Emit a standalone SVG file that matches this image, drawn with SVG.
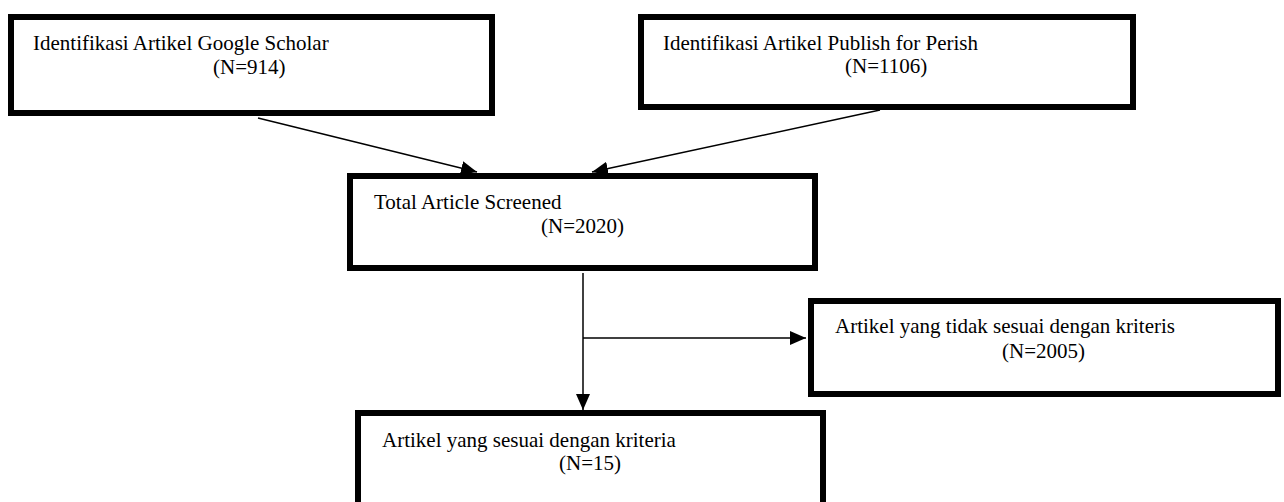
<svg xmlns="http://www.w3.org/2000/svg" width="1284" height="502" viewBox="0 0 1284 502">
<style>
.box{fill:#fff;stroke:#000;stroke-width:6}
.t{font-family:"Liberation Serif","Times New Roman",serif;font-size:21px;fill:#000}
.c{stroke:#000;stroke-width:1.5;fill:none}
</style>
<defs>
<marker id="ah" markerUnits="userSpaceOnUse" markerWidth="16" markerHeight="14" refX="16" refY="7" orient="auto">
<path d="M0,0 L16,7 L0,14 z" fill="#000"/>
</marker>
</defs>
<rect width="1284" height="502" fill="#fff"/>
<g id="n1">
<rect class="box" x="11" y="17" width="481" height="96"/>
<text class="t" x="33" y="50">Identifikasi Artikel Google Scholar</text>
<text class="t" x="213" y="74">(N=914)</text>
</g>
<g id="n2">
<rect class="box" x="641" y="17" width="492" height="90"/>
<text class="t" x="663" y="50">Identifikasi Artikel Publish for Perish</text>
<text class="t" x="845" y="73">(N=1106)</text>
</g>
<g id="n3">
<rect class="box" x="350" y="176" width="465" height="92"/>
<text class="t" x="374" y="209">Total Article Screened</text>
<text class="t" x="541" y="233">(N=2020)</text>
</g>
<g id="n4">
<rect class="box" x="811" y="301" width="467" height="93"/>
<text class="t" x="835" y="333">Artikel yang tidak sesuai dengan kriteris</text>
<text class="t" x="1002" y="358">(N=2005)</text>
</g>
<g id="n5">
<rect class="box" x="358" y="413" width="465" height="100"/>
<text class="t" x="382" y="447">Artikel yang sesuai dengan kriteria</text>
<text class="t" x="559" y="470">(N=15)</text>
</g>
<g id="connectors">
<line class="c" x1="258" y1="118" x2="477" y2="172" marker-end="url(#ah)"/>
<line class="c" x1="880" y1="110" x2="592" y2="172" marker-end="url(#ah)"/>
<line class="c" x1="583" y1="273" x2="583" y2="410" marker-end="url(#ah)"/>
<line class="c" x1="583" y1="338" x2="806" y2="338" marker-end="url(#ah)"/>
</g>
</svg>
